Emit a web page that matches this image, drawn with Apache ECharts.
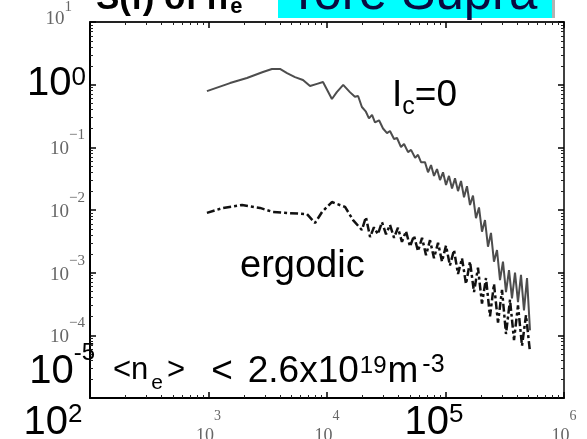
<!DOCTYPE html>
<html><head><meta charset="utf-8">
<script src="https://cdn.jsdelivr.net/npm/echarts@6/dist/echarts.min.js"></script>
<style>html,body{margin:0;padding:0;background:#fff}#c{width:587px;height:439px}</style>
</head><body><div id="c"></div>
<script>
// ---- data (frequency in Hz, spectral density S(f)) ----
const icFreq = [970,1520,2110,2880,3430,4010,4600,5370,6270,7190,8240,9250,11000,12100,13700,15600,17200,18300,19700,21300,22600,24000,25400,27500,29700,32100,34000,36800,39000,42100,44700,48300,51200,55400,58600,62100,
  67100,71200,75500,80000,84800,89900,95300,101000,107000,113500,120300,127500,135200,143300,151800,161000,170600,180800,191700,203200,215400,228300,242000,256500,272000,288400,305500,324000,343500,364000,386000,409000,433600,459500,487500,516400];
const icS = [0.79,1.06,1.28,1.59,1.78,1.78,1.53,1.32,1.19,0.95,1.03,1.10,0.59,0.76,0.99,0.76,0.64,0.66,0.44,0.37,0.29,0.33,0.25,0.27,0.20,0.169,0.182,0.136,0.141,0.101,0.113,0.084,0.091,0.068,0.076,0.058,
  0.058,0.040,0.052,0.035,0.045,0.030,0.040,0.025,0.035,0.022,0.032,0.020,0.029,0.016,0.024,0.012,0.017,0.0074,0.011,0.0045,0.0069,0.0026,0.0043,0.0015,0.0023,0.00076,0.0015,0.00049,0.0011,0.00039,0.0010,0.00034,0.00092,0.00025,0.00082,0.00012];
const ergFreq = [970,1330,1920,2720,3500,4870,6780,7920,9080,11000,12100,14200,16600,19700,21300,23100,24900,26900,
  29100,31500,34000,36800,39700,42900,46400,50200,54200,58600,63400,68500,74000,80000,86500,93400,101000,109000,118000,127500,137800,148900,161000,174000,188000,203200,219700,237400,256600,277400,299900,324000,350300,378600,409100,442200,478000,516600];
const ergS = [0.0090,0.0108,0.0120,0.0108,0.0093,0.0089,0.0086,0.0062,0.0093,0.0134,0.0125,0.0112,0.0069,0.0048,0.0077,0.0037,0.0053,0.0041,
  0.0064,0.0041,0.0058,0.0036,0.0052,0.0031,0.0046,0.0026,0.0039,0.0022,0.0036,0.0019,0.0033,0.0017,0.0030,0.0015,0.0027,0.0013,0.0023,0.00095,0.0017,0.00066,0.0015,0.00049,0.0012,0.00032,0.00082,0.00020,0.00066,0.00016,0.00053,0.000105,0.00037,0.000084,0.00030,0.000068,0.00021,0.000054];

// tick labels
const xTickExp = ['2','3','4','5','6'];
const xTickBig = [true,false,false,true,false];
const yTickExp = ['1','0','\u22121','\u22122','\u22123','\u22124','-5'];
const yTickBig = [false,true,false,false,false,false,true];

const SANS = 'Liberation Sans';
const SERIF = 'Liberation Serif';

const chart = echarts.init(document.getElementById('c'), null, {renderer: 'canvas'});

function pair(f, s) { return f.map((v, i) => [v, s[i]]); }

const xRich = {
  xb: {fontFamily: SANS, fontSize: 40, lineHeight: 42, verticalAlign: 'top', color: '#000', padding: [2,0,0,0]},
  xbs0: {fontFamily: SANS, fontSize: 26, lineHeight: 26, verticalAlign: 'top', color: '#000', padding: [1,74,0,0]},
  xbs3: {fontFamily: SANS, fontSize: 26, lineHeight: 26, verticalAlign: 'top', color: '#000', padding: [1,23,0,0]},
  xs: {fontFamily: SERIF, fontSize: 18, lineHeight: 18, verticalAlign: 'top', color: '#666', padding: [26,0,0,0]},
  xss: {fontFamily: SERIF, fontSize: 14, lineHeight: 14, verticalAlign: 'top', color: '#666', padding: [8,0,0,0]}
};
const yRich = {
  yb1: {fontFamily: SANS, fontSize: 40, lineHeight: 42, verticalAlign: 'top', color: '#000', padding: [0,0,0,0]},
  ybs1: {fontFamily: SANS, fontSize: 26, lineHeight: 26, verticalAlign: 'top', color: '#000', padding: [1,9,0,0]},
  yb6: {fontFamily: SANS, fontSize: 40, lineHeight: 42, verticalAlign: 'bottom', color: '#000', padding: [0,0,27,0]},
  ybs6: {fontFamily: SANS, fontSize: 24, lineHeight: 24, verticalAlign: 'bottom', color: '#000', padding: [0,0,54,0]},
  ys0: {fontFamily: SERIF, fontSize: 19, lineHeight: 19, verticalAlign: 'bottom', color: '#666', padding: [0,0,3,0]},
  yss0: {fontFamily: SERIF, fontSize: 15, lineHeight: 15, verticalAlign: 'bottom', color: '#666', padding: [0,23,17,0]},
  ys: {fontFamily: SERIF, fontSize: 19, lineHeight: 19, verticalAlign: 'top', color: '#666', padding: [2,0,0,0]},
  yss: {fontFamily: SERIF, fontSize: 15, lineHeight: 15, verticalAlign: 'bottom', color: '#666', padding: [0,10,14,0]}
};

function yIndex(v) { return 1 - Math.round(Math.log10(v)); }
function xFmt(v) {
  const i = Math.round(Math.log10(v)) - 2;
  if (i < 0 || i >= xTickExp.length) return '';
  if (xTickBig[i]) return '{xb|10}{xbs' + i + '|' + xTickExp[i] + '}';
  return '{xs|10}{xss|' + xTickExp[i] + '}';
}
function yLabel(i) {
  if (yTickBig[i]) return '{yb' + i + '|10}{ybs' + i + '|' + yTickExp[i] + '}';
  if (i === 0) return '{ys0|10}{yss0|' + yTickExp[i] + '}';
  return '{ys|10}{yss|' + yTickExp[i] + '}';
}
// main left axis: all labels except the bottom one
function yFmtMain(v) {
  const i = yIndex(v);
  if (i < 0 || i >= yTickExp.length - 1) return '';
  return yLabel(i);
}
// overlay left axis carrying only the bottom (10^-5) label, which sits close to its neighbour in the reference
function yFmtBottom(v) {
  const i = yIndex(v);
  return i === yTickExp.length - 1 ? yLabel(i) : '';
}

const tickStyle = {show: true, inside: true, length: 6, lineStyle: {color: '#000', width: 1.5}};
const minorStyle = {show: true, splitNumber: 9, length: 3, lineStyle: {color: '#222', width: 1}};

const option = {
  animation: false,
  backgroundColor: '#fff',
  grid: {left: 90, right: 23, top: 22, bottom: 41, containLabel: false, outerBoundsMode: 'none'},
  xAxis: [
    {type: 'log', logBase: 10, min: 100, max: 1e6, position: 'bottom',
     axisLine: {show: true, lineStyle: {color: '#000', width: 2}},
     axisTick: tickStyle, minorTick: minorStyle, splitLine: {show: false},
     axisLabel: {show: true, margin: 3, formatter: xFmt, rich: xRich, showMinLabel: true, showMaxLabel: true}},
    {type: 'log', logBase: 10, min: 100, max: 1e6, position: 'top',
     axisLine: {show: true, lineStyle: {color: '#222', width: 2}},
     axisTick: tickStyle, minorTick: minorStyle, splitLine: {show: false},
     axisLabel: {show: false}}
  ],
  yAxis: [
    {type: 'log', logBase: 10, min: 1e-5, max: 10, position: 'left',
     axisLine: {show: true, lineStyle: {color: '#000', width: 2}},
     axisTick: tickStyle, minorTick: minorStyle, splitLine: {show: false},
     axisLabel: {show: true, margin: -5, formatter: yFmtMain, rich: yRich, showMinLabel: true, showMaxLabel: true}},
    {type: 'log', logBase: 10, min: 1e-5, max: 10, position: 'right',
     axisLine: {show: true, lineStyle: {color: '#000', width: 1.5}},
     axisTick: tickStyle, minorTick: minorStyle, splitLine: {show: false},
     axisLabel: {show: false}},
    {type: 'log', logBase: 10, min: 1e-5, max: 10, position: 'left', offset: 0,
     axisLine: {show: false}, axisTick: {show: false}, minorTick: {show: false}, splitLine: {show: false},
     axisLabel: {show: true, margin: -5, formatter: yFmtBottom, rich: yRich, showMinLabel: true, showMaxLabel: true}}
  ],
  series: [
    {name: 'Ic=0', type: 'line', xAxisIndex: 0, yAxisIndex: 0, data: pair(icFreq, icS),
     showSymbol: false, symbol: 'none', z: 2,
     lineStyle: {color: '#4d4d4d', width: 2}},
    {name: 'ergodic', type: 'line', xAxisIndex: 0, yAxisIndex: 0, data: pair(ergFreq, ergS),
     showSymbol: false, symbol: 'none', z: 3,
     lineStyle: {color: '#111', width: 2.5, type: [8,3,3,3]}}
  ],
  graphic: [
    {type: 'text', x: 96, y: -18, z: 10, style: {
      text: '{t|S(f) of n}{ts|e}', align: 'left', verticalAlign: 'top',
      rich: {
        t: {fontFamily: SANS, fontWeight: 'bold', fontSize: 35, lineHeight: 35, verticalAlign: 'top', fill: '#000', color: '#000', padding: [0,0,0,0]},
        ts: {fontFamily: SANS, fontWeight: 'bold', fontSize: 22, lineHeight: 22, verticalAlign: 'top', fill: '#000', color: '#000', padding: [14,0,0,2]}
      }}},
    {type: 'rect', z: 10, shape: {x: 278, y: -10, width: 274, height: 28},
     style: {fill: '#00ffff', shadowColor: 'rgba(0,0,0,0.3)', shadowOffsetX: 3, shadowOffsetY: 0, shadowBlur: 0}},
    {type: 'text', x: 288, y: -5, z: 11, style: {
      text: 'Tore Supra', fontFamily: SANS, fontSize: 51, fill: '#0a0a40', align: 'left', verticalAlign: 'middle'}},
    {type: 'text', x: 392, y: 77, z: 10, style: {
      text: '{a|I}{c|c}{a|=0}', align: 'left', verticalAlign: 'top',
      rich: {
        a: {fontFamily: SANS, fontSize: 37, lineHeight: 37, verticalAlign: 'top', color: '#000', padding: [0,0,0,0]},
        c: {fontFamily: SANS, fontSize: 25, lineHeight: 25, verticalAlign: 'top', color: '#000', padding: [18,0,0,0]}
      }}},
    {type: 'text', x: 240, y: 267, z: 10, style: {
      text: 'ergodic', fontFamily: SANS, fontSize: 38, fill: '#000', align: 'left', verticalAlign: 'middle'}},
    {type: 'text', x: 113, y: 348, z: 10, style: {
      text: '{p|<n}{pe|e}{pg|>}{ql|<}{qn|2.6x10}{qs|19}{q|m}{qm|-3}', align: 'left', verticalAlign: 'top',
      rich: {
        p: {fontFamily: SANS, fontSize: 31, lineHeight: 31, verticalAlign: 'top', color: '#000', padding: [7,0,0,0]},
        pe: {fontFamily: SANS, fontSize: 21, lineHeight: 21, verticalAlign: 'top', color: '#000', padding: [25,0,0,3]},
        pg: {fontFamily: SANS, fontSize: 31, lineHeight: 31, verticalAlign: 'top', color: '#000', padding: [7,0,0,4]},
        ql: {fontFamily: SANS, fontSize: 37, lineHeight: 37, verticalAlign: 'top', color: '#000', padding: [5,0,0,26]},
        qn: {fontFamily: SANS, fontSize: 37, lineHeight: 37, verticalAlign: 'top', color: '#000', padding: [5,0,0,15]},
        qs: {fontFamily: SANS, fontSize: 24, lineHeight: 24, verticalAlign: 'top', color: '#000', padding: [6,0,0,1]},
        q: {fontFamily: SANS, fontSize: 37, lineHeight: 37, verticalAlign: 'top', color: '#000', padding: [5,0,0,1]},
        qm: {fontFamily: SANS, fontSize: 25, lineHeight: 25, verticalAlign: 'top', color: '#000', padding: [5,0,0,4]}
      }}}
  ]
};
chart.setOption(option);
</script>
</body></html>
